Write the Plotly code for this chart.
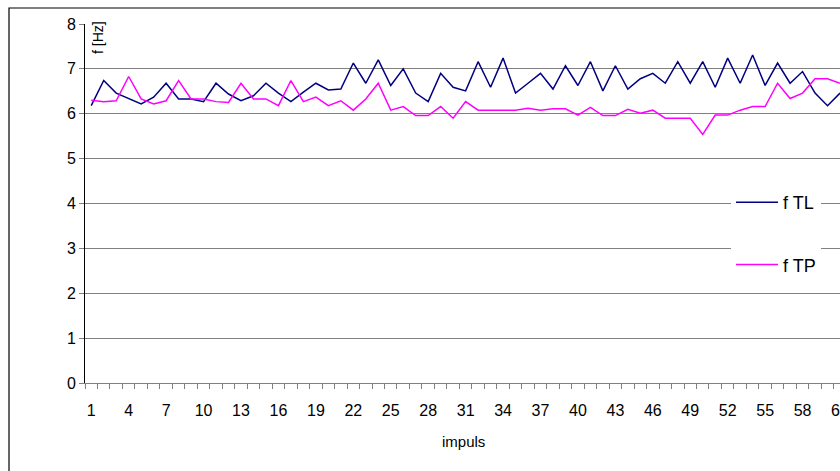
import plotly.graph_objects as go

impuls = list(range(1, 62))
f_TL = [6.18, 6.74, 6.46, 6.34, 6.22, 6.37, 6.68, 6.33, 6.33, 6.27,
        6.68, 6.44, 6.29, 6.40, 6.68, 6.46, 6.27, 6.48, 6.68, 6.53,
        6.55, 7.13, 6.68, 7.20, 6.63, 7.00, 6.46, 6.27, 6.90, 6.59,
        6.51, 7.16, 6.59, 7.24, 6.46, 6.68, 6.90, 6.55, 7.07, 6.63,
        7.16, 6.51, 7.07, 6.55, 6.78, 6.90, 6.68, 7.16, 6.68, 7.16,
        6.59, 7.24, 6.68, 7.31, 6.63, 7.13, 6.68, 6.94, 6.46, 6.18,
        6.46]
f_TP = [6.30, 6.27, 6.29, 6.83, 6.33, 6.22, 6.29, 6.74, 6.33, 6.33,
        6.27, 6.25, 6.68, 6.33, 6.33, 6.18, 6.74, 6.27, 6.37, 6.18,
        6.29, 6.08, 6.33, 6.68, 6.08, 6.16, 5.96, 5.96, 6.16, 5.90,
        6.27, 6.08, 6.08, 6.08, 6.08, 6.12, 6.08, 6.11, 6.11, 5.97,
        6.14, 5.96, 5.96, 6.10, 6.01, 6.08, 5.90, 5.90, 5.90, 5.54,
        5.97, 5.97, 6.08, 6.16, 6.16, 6.68, 6.34, 6.46, 6.78, 6.78,
        6.68]
x_ticks = list(range(1, 62, 3))
y_ticks = list(range(0, 9))

W, H = 840, 471
L, T, B = 85, 24, 88
PW = W - L
PH = H - T - B

def px_x(p):
    return (p - L) / PW

def px_y(p):
    return (H - B - p) / PH

FONT = "Liberation Sans, Arial, sans-serif"

fig = go.Figure()
fig.add_trace(go.Scatter(x=impuls, y=f_TL, mode="lines", name="f TL",
                         legendgroup="a",
                         line=dict(color="#000080", width=1.5)))
fig.add_trace(go.Scatter(x=impuls, y=f_TP, mode="lines", name="f TP",
                         legendgroup="b",
                         line=dict(color="#FF00FF", width=1.5)))

fig.update_layout(
    width=W, height=H,
    margin=dict(l=L, r=0, t=T, b=B, autoexpand=False),
    paper_bgcolor="white", plot_bgcolor="white",
    font=dict(family=FONT, size=16, color="black"),
    showlegend=True,
    legend=dict(x=px_x(731), xanchor="left", y=px_y(184), yanchor="top",
                bgcolor="white", borderwidth=0, traceorder="grouped",
                tracegroupgap=36, itemwidth=42, font=dict(size=18)),
    xaxis=dict(range=[0.5, 61.0], tickvals=x_ticks,
               ticks="outside", ticklen=5, tickcolor="rgba(0,0,0,0)",
               ticklabelstandoff=8, ticklabeloverflow="allow",
               automargin=False,
               minor=dict(ticks="outside", ticklen=5, tick0=0.5, dtick=1,
                          tickcolor="#808080", showgrid=False),
               showgrid=False, zeroline=False, showline=True,
               linecolor="#808080", linewidth=1,
               tickfont=dict(size=16)),
    yaxis=dict(range=[0, 8], tickvals=y_ticks, ticks="outside", ticklen=5,
               tickcolor="#808080", showgrid=True, gridcolor="#808080",
               gridwidth=1, zeroline=False, showline=True, automargin=False,
               linecolor="#000000", linewidth=1, tickfont=dict(size=16)),
    shapes=[dict(type="rect", xref="paper", yref="paper",
                 x0=px_x(9), x1=1.05, y0=-0.4, y1=px_y(8),
                 line=dict(color="black", width=1.2), layer="above")],
    annotations=[
        dict(text="f [Hz]", xref="paper", yref="paper", x=px_x(98), y=px_y(38),
             showarrow=False, textangle=-90, font=dict(size=14),
             xanchor="center", yanchor="middle"),
        dict(text="impuls", xref="paper", yref="paper", x=px_x(463), y=px_y(441),
             showarrow=False, font=dict(size=15),
             xanchor="center", yanchor="middle"),
    ],
)

fig.write_html("out.html")
